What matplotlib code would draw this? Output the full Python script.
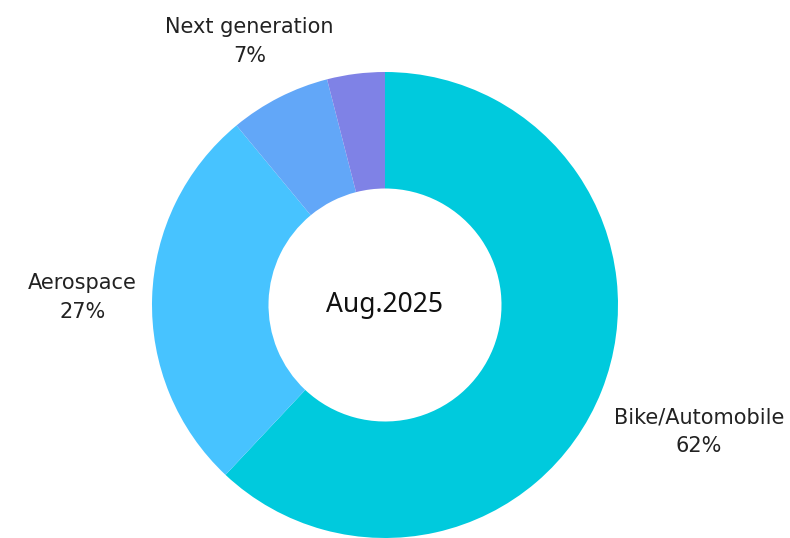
import numpy as np
import matplotlib
matplotlib.use("Agg")
import matplotlib.pyplot as plt

# share by segment, Aug.2025
segments = ["Bike/Automobile", "Aerospace", "Next generation", ""]
shares = [62, 27, 7, 4]
colors = ["#00CADD", "#47C3FF", "#62A7F8", "#7F82E6"]
label_dist = [1.45, 1.30, 1.28, 0]
center_text = "Aug.2025"

plt.rcParams['font.family'] = ['DejaVu Sans']

fig = plt.figure(figsize=(7.9, 5.38), dpi=100)
cx, cy, r = 385, 305, 233
ax = fig.add_axes([(cx - r) / 790, (538 - cy - r) / 538, 2 * r / 790, 2 * r / 538])

wedges, _ = ax.pie(shares, colors=colors, startangle=90, counterclock=False,
                   radius=1.0, wedgeprops=dict(width=0.5, linewidth=0))
ax.set_xlim(-1, 1)
ax.set_ylim(-1, 1)
ax.set_aspect('equal')
ax.axis('off')

for w, name, val, d in zip(wedges, segments, shares, label_dist):
    if not name:
        continue
    th = np.deg2rad((w.theta1 + w.theta2) / 2)
    ax.text(d * np.cos(th), d * np.sin(th) - 0.01, "{}\n{}%".format(name, val),
            ha='center', va='center', fontsize=15, color='#222222',
            linespacing=1.55, clip_on=False)

ax.text(0, 0, center_text, ha='center', va='center', fontsize=19,
        color='#111111', family=['Noto Sans', 'DejaVu Sans'])

fig.savefig('out.png', dpi=100)
